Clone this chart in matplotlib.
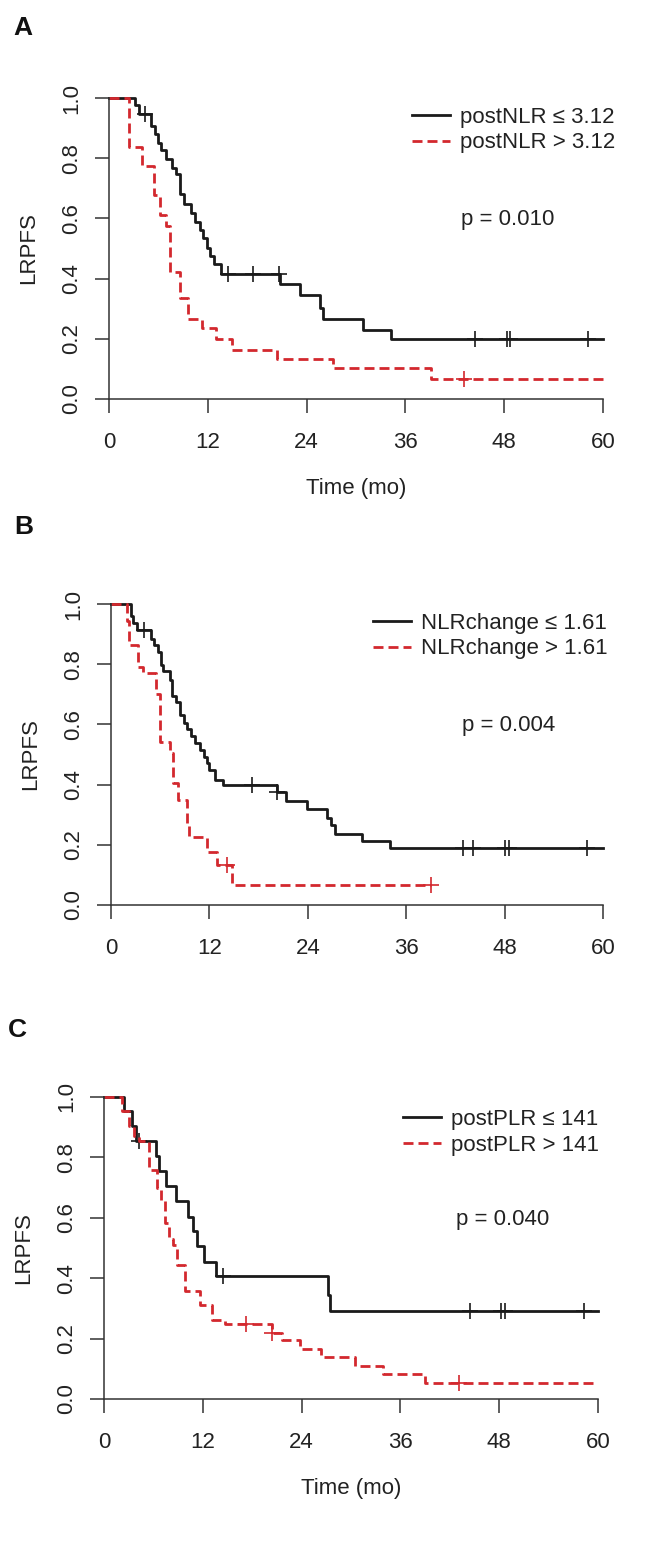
import numpy as np
import matplotlib
matplotlib.use("Agg")
import matplotlib.pyplot as plt

plt.rcParams['font.family'] = ['Liberation Sans', 'DejaVu Sans']
plt.rcParams['font.size'] = 16

# ---- data (months, survival) ----
# panel A
a_low_t = [0, 3.2, 3.7, 5.1, 5.6, 5.9, 6.3, 6.9, 7.6, 8.1, 8.6, 9.1, 10.0, 10.5, 11.0, 11.4,
           11.9, 12.3, 12.7, 13.6, 20.8, 23.2, 25.6, 26.0, 30.8, 34.3, 60]
a_low_s = [1.0, 0.976, 0.948, 0.906, 0.880, 0.852, 0.827, 0.799, 0.769, 0.746, 0.681, 0.648,
           0.619, 0.589, 0.561, 0.534, 0.501, 0.476, 0.448, 0.414, 0.382, 0.346, 0.302, 0.266,
           0.230, 0.199, 0.199]
a_low_cens = [4.4, 14.4, 17.5, 20.6, 44.4, 48.4, 48.7, 58.2]
a_high_t = [0, 2.47, 3.97, 5.47, 6.19, 6.92, 7.41, 8.62, 9.64, 11.26, 13.0, 14.9, 20.4, 27.2, 39.1, 60]
a_high_s = [1.0, 0.838, 0.773, 0.677, 0.611, 0.575, 0.423, 0.335, 0.265, 0.235, 0.199, 0.164,
            0.133, 0.103, 0.066, 0.066]
a_high_cens = [43.1]

# panel B
b_low_t = [0, 2.4, 2.72, 3.13, 4.88, 5.28, 5.69, 6.10, 6.38, 7.20, 7.48, 7.93, 8.41, 8.94, 9.23,
           9.76, 10.24, 10.85, 11.34, 11.67, 11.99, 12.68, 13.62, 20.2, 21.4, 23.9, 26.3, 26.8,
           27.3, 30.6, 34.0, 60]
b_low_s = [1.0, 0.959, 0.937, 0.915, 0.884, 0.865, 0.840, 0.798, 0.778, 0.748, 0.693, 0.676,
           0.632, 0.604, 0.584, 0.560, 0.538, 0.516, 0.493, 0.471, 0.449, 0.416, 0.399, 0.375,
           0.347, 0.319, 0.288, 0.266, 0.235, 0.214, 0.188, 0.188]
b_low_cens = [4.0, 17.15, 20.3, 42.9, 44.1, 48.1, 48.5, 58.1]
b_high_t = [0, 1.9, 2.24, 3.33, 3.86, 5.49, 5.98, 7.2, 7.5, 8.2, 9.3, 9.55, 11.75, 12.9, 14.7, 39.0]
b_high_s = [1.0, 0.942, 0.865, 0.790, 0.770, 0.700, 0.543, 0.504, 0.405, 0.349, 0.272, 0.227,
            0.177, 0.133, 0.067, 0.067]
b_high_cens = [14.1, 39.0]

# panel C
c_low_t = [0, 2.4, 3.4, 3.9, 6.3, 6.7, 7.5, 8.7, 10.2, 10.85, 11.25, 12.15, 13.6, 27.2, 27.4, 60]
c_low_s = [1.0, 0.953, 0.903, 0.853, 0.806, 0.756, 0.704, 0.654, 0.602, 0.555, 0.505, 0.453,
           0.406, 0.345, 0.293, 0.293]
c_low_cens = [4.3, 14.4, 44.5, 48.2, 48.7, 58.3]
c_high_t = [0, 2.2, 3.0, 3.7, 4.2, 5.5, 6.4, 6.9, 7.4, 7.9, 8.4, 8.9, 9.8, 11.7, 13.1, 14.7, 20.4,
            21.6, 23.8, 26.3, 30.5, 33.9, 39.0, 60]
c_high_s = [1.0, 0.952, 0.903, 0.870, 0.855, 0.759, 0.700, 0.654, 0.582, 0.530, 0.510, 0.444,
            0.356, 0.312, 0.262, 0.249, 0.218, 0.196, 0.165, 0.138, 0.110, 0.083, 0.052, 0.052]
c_high_cens = [17.3, 20.4, 43.1]

labels_a = ["postNLR \u2264 3.12", "postNLR > 3.12"]
labels_b = ["NLRchange \u2264 1.61", "NLRchange > 1.61"]
labels_c = ["postPLR \u2264 141", "postPLR > 141"]
pvals = ["p = 0.010", "p = 0.004", "p = 0.040"]
xticks = [0, 12, 24, 36, 48, 60]
yticks = [0.0, 0.2, 0.4, 0.6, 0.8, 1.0]

RED = '#d3282e'
BLACK = '#1a1a1a'
TXT = '#222222'

W, H = 662, 1562
fig = plt.figure(figsize=(W / 100, H / 100), dpi=100)


def add_ax(l, r, top, bot):
    return fig.add_axes([l / W, 1 - bot / H, (r - l) / W, (bot - top) / H])


def km(ax, t, s, cens, color, ls, label):
    ln, = ax.step(t, s, where='post', color=color, lw=2.0, clip_on=False, label=label)
    if ls == 'dash':
        ln.set_dashes((3.6, 1.8))
    idx = np.searchsorted(t, cens, side='right') - 1
    ax.plot(cens, np.array(s)[idx], ls='none', marker='+', ms=12, mew=1.2,
            color=color, clip_on=False)
    return ln


def panel(ax, low, high, labels, pval, leg_x, leg_y, xlabel=True):
    l1 = km(ax, *low, BLACK, 'solid', labels[0])
    l2 = km(ax, *high, RED, 'dash', labels[1])
    ax.set_xlim(0, 60)
    ax.set_ylim(0, 1)
    for sp in ['top', 'right']:
        ax.spines[sp].set_visible(False)
    for sp in ['left', 'bottom']:
        ax.spines[sp].set_linewidth(1.1)
        ax.spines[sp].set_color('#333333')
    ax.set_xticks(xticks)
    ax.set_yticks(yticks)
    ax.set_yticklabels(["%.1f" % v for v in yticks], rotation=90, va='center')
    ax.tick_params(length=10, width=1.1, color='#333333', labelsize=16, labelcolor=TXT)
    ax.tick_params(axis='x', pad=14)
    ax.tick_params(axis='y', pad=9)
    ax.set_ylabel("LRPFS", fontsize=16, labelpad=16, color=TXT)
    if xlabel:
        ax.set_xlabel("Time (mo)", fontsize=16, labelpad=18, color=TXT)
    ax.text(42.8, 0.595, pval, fontsize=16, ha='left', va='center', color=TXT)
    ax.legend(handles=[l1, l2], loc='upper left', bbox_to_anchor=(leg_x, leg_y),
              frameon=False, fontsize=16, handlelength=1.7, handletextpad=0.45,
              labelspacing=0.2, borderpad=0, borderaxespad=0, labelcolor=TXT)


ax_a = add_ax(109, 603, 98, 399)
panel(ax_a, (a_low_t, a_low_s, a_low_cens), (a_high_t, a_high_s, a_high_cens),
      labels_a, pvals[0], 36.8 / 60, 0.97)
ax_b = add_ax(111, 603, 604, 905)
panel(ax_b, (b_low_t, b_low_s, b_low_cens), (b_high_t, b_high_s, b_high_cens),
      labels_b, pvals[1], 32.0 / 60, 0.97, xlabel=False)
ax_c = add_ax(104, 598, 1097, 1399)
panel(ax_c, (c_low_t, c_low_s, c_low_cens), (c_high_t, c_high_s, c_high_cens),
      labels_c, pvals[2], 36.3 / 60, 0.96)

for lab, x, y in [("A", 23, 28), ("B", 24, 527), ("C", 17, 1030)]:
    fig.text(x / W, 1 - y / H, lab, fontsize=19, fontweight='bold', ha='center', va='center',
             color='#111111', family=['Liberation Sans Narrow', 'Liberation Sans', 'DejaVu Sans'])

fig.savefig("out.png", dpi=100)
